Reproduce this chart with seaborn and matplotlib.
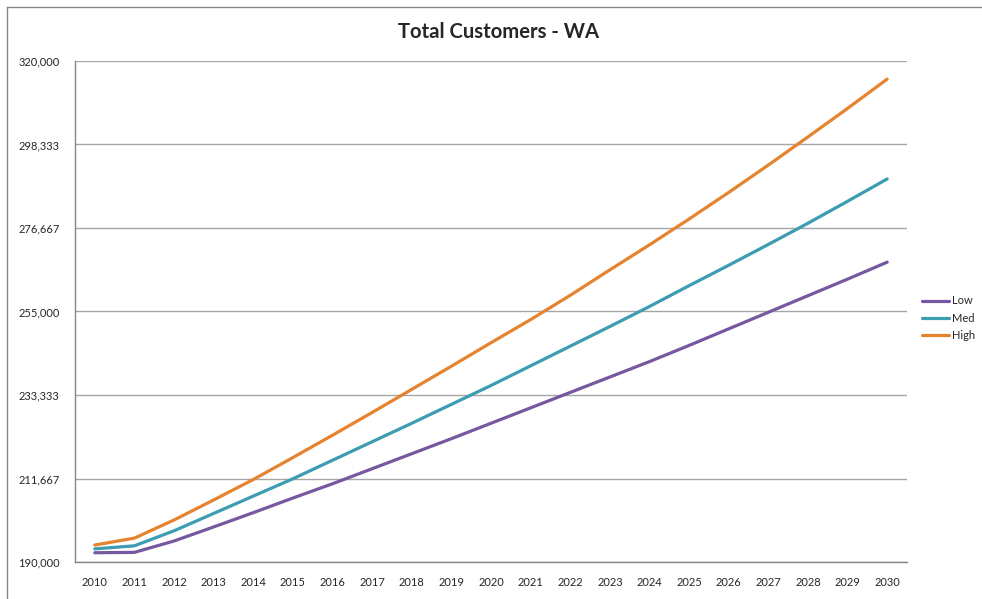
import pandas as pd
import numpy as np
import matplotlib
matplotlib.use("Agg")
import matplotlib.pyplot as plt
from matplotlib.lines import Line2D
import seaborn as sns

# values
years = list(range(2010, 2031))
low = [192400, 192500, 195450, 199100, 202800, 206600, 210300, 214200, 218100, 222000,
       226000, 230000, 234000, 238000, 242000, 246200, 250500, 254800, 259100, 263400, 267800]
med = [193400, 194200, 198100, 202600, 207100, 211600, 216400, 221200, 226000, 230900,
       235800, 240900, 246000, 251100, 256300, 261700, 267000, 272400, 277900, 283600, 289400]
high = [194400, 196200, 200900, 206100, 211400, 217100, 222900, 228800, 234800, 240800,
        246900, 252900, 259200, 265800, 272300, 279000, 285900, 293000, 300300, 307700, 315300]
series = ["Low", "Med", "High"]
colors = {"Low": "#7658A0", "Med": "#3C9CB2", "High": "#E6832F"}

rows = []
for name, vals in zip(series, [low, med, high]):
    for i, v in enumerate(vals):
        rows.append({"idx": i, "year": years[i], "value": v, "scenario": name})
df = pd.DataFrame(rows)

sns.set_style("white")
plt.rcParams["font.family"] = ["Lato", "DejaVu Sans"]

fig = plt.figure(figsize=(9.82, 5.99), dpi=100)
ax = fig.add_axes([75 / 982, 1 - 562 / 599, 832 / 982, 501 / 599])

sns.lineplot(data=df, x="idx", y="value", hue="scenario", hue_order=series,
             palette=colors, linewidth=2.3, ax=ax, legend=False)

# y axis: 190,000 .. 320,000 in six steps
yt = np.linspace(190000, 320000, 7)
ax.set_ylim(190000, 320000)
ax.set_yticks(yt)
ax.set_yticklabels([f"{v:,.0f}" for v in yt], fontsize=8)
ax.yaxis.grid(True, color="#A6A6A6", linewidth=1)
ax.set_axisbelow(True)

# x axis: category style, ticks between labels
ax.set_xlim(-0.5, len(years) - 0.5)
ax.set_xticks(np.arange(-0.5, len(years), 1.0))
ax.set_xticklabels([])
ax.set_xticks(np.arange(len(years)), minor=True)
ax.set_xticklabels([str(y) for y in years], minor=True, fontsize=8)
ax.tick_params(axis="x", which="major", length=5, direction="out", color="#868686", width=1)
ax.tick_params(axis="x", which="minor", length=0, pad=11)
ax.tick_params(axis="y", length=5, direction="out", color="#868686", width=1, pad=6)

ax.set_xlabel("")
ax.set_ylabel("")
for s in ["top", "right"]:
    ax.spines[s].set_visible(False)
for s in ["left", "bottom"]:
    ax.spines[s].set_color("#868686")
    ax.spines[s].set_linewidth(1)

fig.text(499 / 982, 1 - 32 / 599, "Total Customers - WA", ha="center", va="center",
         fontsize=14.6, fontweight="bold")

handles = [Line2D([0], [0], color=colors[n], linewidth=2.3) for n in series]
fig.legend(handles, series, loc="center left", bbox_to_anchor=(912 / 982, 1 - 318 / 599),
           frameon=False, fontsize=8, handlelength=2.4, handletextpad=0.3, labelspacing=0.55)

# outer chart border (top and left visible in the reference)
fig.add_artist(Line2D([7 / 982, 1], [1 - 7 / 599, 1 - 7 / 599], color="#868686", linewidth=1))
fig.add_artist(Line2D([7 / 982, 7 / 982], [0, 1 - 7 / 599], color="#868686", linewidth=1))

fig.savefig("out.png", dpi=100)
